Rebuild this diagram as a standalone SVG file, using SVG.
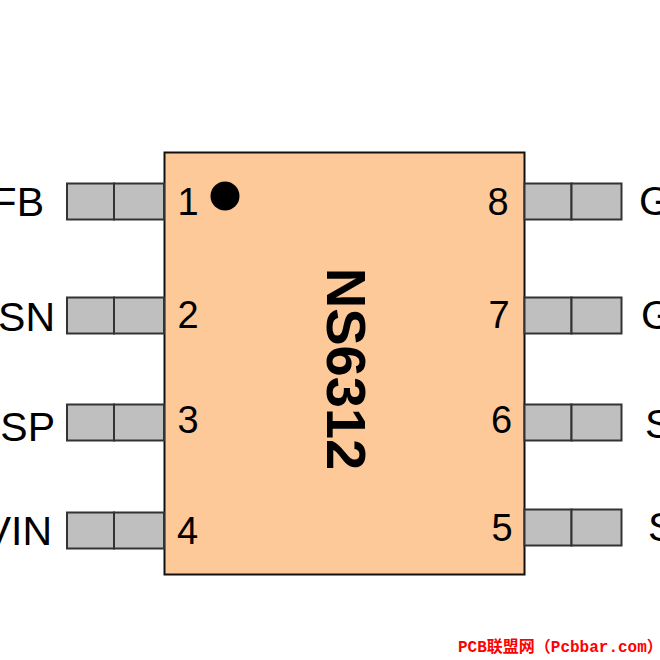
<svg xmlns="http://www.w3.org/2000/svg" width="660" height="660" viewBox="0 0 660 660">
<style>
.pin{fill:#bfbfbf;stroke:#333;stroke-width:2}
.lbl{font-family:"Liberation Sans",Arial,sans-serif;font-size:41px;fill:#000}
.num{font-family:"Liberation Sans",Arial,sans-serif;font-size:38px;fill:#000;text-anchor:middle}
</style>
<rect width="660" height="660" fill="#fff"/>
<g id="body">
<rect x="164.500" y="152.500" width="360" height="422" fill="#fdc998" stroke="#111" stroke-width="2"/>
<circle cx="225" cy="196" r="14.500" fill="#000"/>
<text transform="translate(327 369) rotate(90)" font-family="'Liberation Sans',Arial,sans-serif" font-size="56" font-weight="700" text-anchor="middle" fill="#000">NS6312</text>
</g>
<g id="pin1"><rect class="pin" x="67" y="183.500" width="47" height="36"/><rect class="pin" x="114" y="183.500" width="50" height="36"/><text class="num" x="188" y="215">1</text><text class="lbl" x="44" y="216" text-anchor="end">FB</text></g>
<g id="pin2"><rect class="pin" x="67" y="297.500" width="47" height="36"/><rect class="pin" x="114" y="297.500" width="50" height="36"/><text class="num" x="188" y="328">2</text><text class="lbl" x="55" y="331" text-anchor="end">SN</text></g>
<g id="pin3"><rect class="pin" x="67" y="404.500" width="47" height="36"/><rect class="pin" x="114" y="404.500" width="50" height="36"/><text class="num" x="188" y="433">3</text><text class="lbl" x="55" y="441" text-anchor="end">SP</text></g>
<g id="pin4"><rect class="pin" x="67" y="512.500" width="47" height="36"/><rect class="pin" x="114" y="512.500" width="50" height="36"/><text class="num" x="187.500" y="544">4</text><text class="lbl" x="52" y="545" text-anchor="end">VIN</text></g>
<g id="pin8"><rect class="pin" x="524.500" y="183.500" width="47" height="36"/><rect class="pin" x="571.500" y="183.500" width="50" height="36"/><text class="num" x="498" y="215">8</text><text class="lbl" x="639" y="215">G</text></g>
<g id="pin7"><rect class="pin" x="524.500" y="297.500" width="47" height="36"/><rect class="pin" x="571.500" y="297.500" width="50" height="36"/><text class="num" x="499" y="328">7</text><text class="lbl" x="641" y="329">G</text></g>
<g id="pin6"><rect class="pin" x="524.500" y="404.500" width="47" height="36"/><rect class="pin" x="571.500" y="404.500" width="50" height="36"/><text class="num" x="501.500" y="433">6</text><text class="lbl" x="645" y="438">S</text></g>
<g id="pin5"><rect class="pin" x="524.500" y="509.500" width="47" height="36"/><rect class="pin" x="571.500" y="509.500" width="50" height="36"/><text class="num" x="502" y="541">5</text><text class="lbl" x="648" y="541">S</text></g>
<text id="watermark" x="458" y="652" font-family="'Liberation Mono','Noto Sans CJK SC',monospace" font-size="16" font-weight="700" fill="#f00">PCB联盟网（Pcbbar.com）</text>
</svg>
